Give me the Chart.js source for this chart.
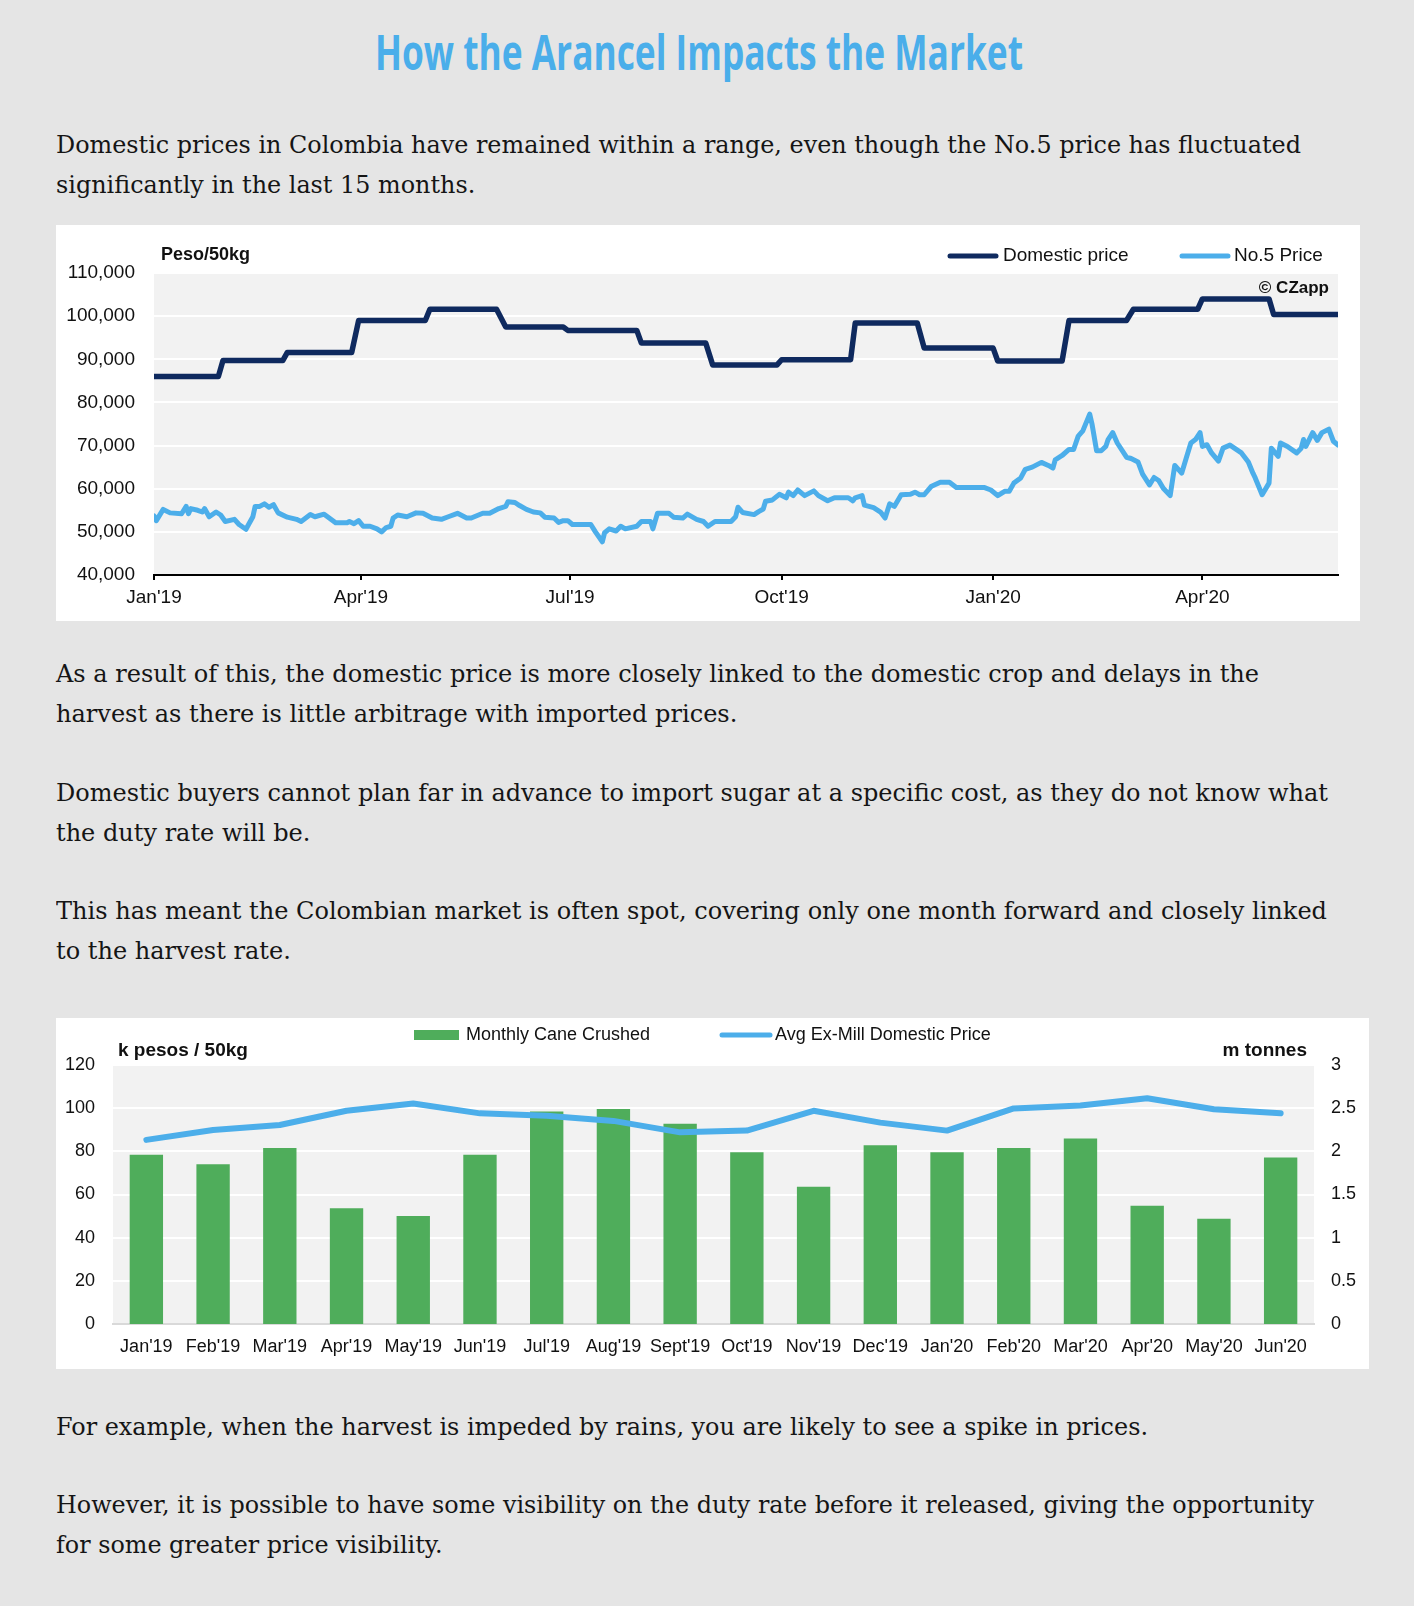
<!DOCTYPE html>
<html><head><meta charset="utf-8">
<script src="https://cdn.jsdelivr.net/npm/chart.js@4.4.1/dist/chart.umd.min.js"></script>
<style>
html,body{margin:0;padding:0;background:#e5e5e5;}
body{width:1414px;height:1606px;position:relative;overflow:hidden;}
.title{position:absolute;left:375px;top:21px;font-family:"Open Sans",sans-serif;font-weight:700;font-size:49px;line-height:60px;color:#4aaeea;white-space:nowrap;transform-origin:0 0;margin:0;}
.p{position:absolute;left:56px;font-family:"DejaVu Serif",serif;font-size:25px;line-height:40px;color:#151515;white-space:nowrap;transform-origin:0 0;margin:0;}
.p span{display:inline-block;}
.panel{position:absolute;background:#fff;}
.panel canvas{display:block;}
</style>
</head><body>
<h1 class="title" id="title">How the Arancel Impacts the Market</h1>
<p class="p" style="top:124.6px" data-w="1245"><span>Domestic prices in Colombia have remained within a range, even though the No.5 price has fluctuated</span><br><span>significantly in the last 15 months.</span></p>
<div class="panel" style="left:56px;top:225px;width:1304px;height:396px"><canvas id="c1" width="1304" height="396"></canvas></div>
<p class="p" style="top:654px" data-w="1203"><span>As a result of this, the domestic price is more closely linked to the domestic crop and delays in the</span><br><span>harvest as there is little arbitrage with imported prices.</span></p>
<p class="p" style="top:773px" data-w="1272"><span>Domestic buyers cannot plan far in advance to import sugar at a specific cost, as they do not know what</span><br><span>the duty rate will be.</span></p>
<p class="p" style="top:890.5px" data-w="1271"><span>This has meant the Colombian market is often spot, covering only one month forward and closely linked</span><br><span>to the harvest rate.</span></p>
<div class="panel" style="left:56px;top:1018px;width:1313px;height:351px"><canvas id="c2" width="1313" height="351"></canvas></div>
<p class="p" style="top:1406.6px" data-w="1092"><span>For example, when the harvest is impeded by rains, you are likely to see a spike in prices.</span></p>
<p class="p" style="top:1485.4px" data-w="1258"><span>However, it is possible to have some visibility on the duty rate before it released, giving the opportunity</span><br><span>for some greater price visibility.</span></p>
<script>
// ---------- Chart 1 data (days since 1 Jan 2019) ----------
const dayTicks = [0, 90, 181, 273, 365, 456];
const dayTickLabels = ["Jan'19", "Apr'19", "Jul'19", "Oct'19", "Jan'20", "Apr'20"];

const domesticDays = [0, 28, 30, 56, 58, 86, 89, 118, 120, 149, 153, 178, 180, 210, 212, 240, 243, 271, 273, 303, 305, 332, 335, 365, 367, 395, 398, 423, 426, 454, 456, 485, 487, 515];
const domesticValues = [86000, 86000, 89700, 89700, 91600, 91600, 99000, 99000, 101600, 101600, 97500, 97500, 96700, 96700, 93750, 93750, 88700, 88700, 89900, 89900, 98400, 98400, 92600, 92600, 89600, 89600, 99000, 99000, 101600, 101600, 104000, 104000, 100400, 100400];

const no5Days = [0, 1, 4, 7, 12, 14, 15, 16, 19, 21, 22, 24, 27, 29, 31, 35, 37, 40, 43, 44, 46, 48, 50, 52, 54, 58, 62, 64, 68, 70, 74, 79, 84, 85, 87, 89, 91, 94, 97, 99, 101, 103, 104, 106, 110, 114, 117, 121, 125, 128, 132, 136, 138, 143, 146, 150, 153, 154, 157, 159, 162, 165, 168, 170, 174, 176, 178, 180, 182, 190, 192, 195, 196, 198, 201, 203, 205, 210, 212, 216, 217, 219, 224, 226, 230, 232, 236, 239, 241, 244, 251, 253, 254, 256, 261, 263, 265, 266, 269, 272, 275, 276, 278, 280, 283, 287, 289, 293, 296, 302, 304, 305, 308, 309, 313, 316, 318, 320, 322, 325, 329, 331, 333, 335, 338, 342, 346, 349, 361, 364, 367, 370, 372, 374, 377, 379, 382, 386, 389, 391, 392, 395, 398, 400, 402, 404, 407, 408, 410, 412, 414, 415, 417, 419, 423, 425, 428, 430, 433, 435, 437, 439, 442, 444, 447, 449, 451, 453, 455, 456, 458, 460, 463, 465, 468, 473, 476, 478, 479, 482, 485, 486, 489, 490, 493, 497, 499, 500, 501, 504, 506, 508, 511, 513, 515];
const no5Values = [53700, 52600, 55200, 54400, 54200, 55900, 54200, 55400, 55000, 54600, 55400, 53500, 54600, 53900, 52400, 52900, 51700, 50600, 53500, 55900, 55900, 56500, 55700, 56300, 54400, 53400, 52900, 52400, 54000, 53500, 54100, 52100, 52100, 52400, 51900, 52600, 51300, 51300, 50700, 50000, 51000, 51300, 53200, 53900, 53500, 54400, 54300, 53200, 52900, 53500, 54300, 53200, 53200, 54300, 54300, 55400, 55900, 57000, 56800, 56100, 55200, 54600, 54400, 53400, 53200, 52200, 52600, 52600, 51700, 51700, 50000, 47700, 49800, 50700, 50200, 51300, 50700, 51300, 52400, 52400, 50700, 54300, 54300, 53400, 53200, 54100, 52900, 52400, 51300, 52400, 52400, 53500, 55700, 54500, 54000, 54700, 55300, 57100, 57400, 58700, 57900, 59200, 58400, 59700, 58400, 59500, 58400, 57200, 57900, 57900, 57200, 57900, 58400, 56200, 55600, 54600, 53200, 56500, 55900, 58600, 58700, 59200, 58600, 58600, 60500, 61500, 61500, 60300, 60300, 59700, 58400, 59400, 59400, 61300, 62500, 64500, 65000, 66100, 65400, 64800, 66700, 67700, 69100, 69100, 72200, 73400, 77300, 75000, 68800, 68800, 69800, 71400, 73000, 70600, 67300, 67000, 66200, 63400, 60900, 62600, 61900, 60100, 58400, 65400, 63600, 67100, 70600, 71400, 73000, 69800, 70200, 68300, 66400, 69400, 70100, 68300, 66200, 63600, 62500, 58600, 61300, 69400, 67500, 70600, 69800, 68300, 69400, 71400, 69800, 73000, 71200, 73000, 73800, 71000, 70100];

// ---------- Chart 2 data ----------
const months = ["Jan'19", "Feb'19", "Mar'19", "Apr'19", "May'19", "Jun'19", "Jul'19", "Aug'19", "Sept'19", "Oct'19", "Nov'19", "Dec'19", "Jan'20", "Feb'20", "Mar'20", "Apr'20", "May'20", "Jun'20"];
const caneCrushed = [1.96, 1.85, 2.04, 1.34, 1.25, 1.96, 2.46, 2.49, 2.32, 1.99, 1.59, 2.07, 1.99, 2.04, 2.15, 1.37, 1.22, 1.93];
const exMillPrice = [85.3, 89.9, 92.2, 98.8, 102.2, 97.6, 96.5, 94.1, 88.8, 89.6, 98.8, 93.3, 89.6, 99.9, 101.2, 104.6, 99.5, 97.6];

// ---------- text fitting ----------
(function(){
  const t = document.getElementById('title');
  const tw = t.getBoundingClientRect().width;
  t.style.transform = 'scaleX(' + (648 / tw) + ')';
  document.querySelectorAll('.p').forEach(p => {
    const s = p.querySelector('span');
    const w = s.getBoundingClientRect().width;
    p.style.transform = 'scaleX(' + (parseFloat(p.dataset.w) / w) + ')';
  });
})();

// ---------- Chart.js ----------
const NAVY = '#0f2a5f', LIGHT = '#4caeea', GREEN = '#4fad5b';
Chart.defaults.font.family = '"Liberation Sans", Arial, sans-serif';
Chart.defaults.color = '#111';

const plotBg = {id: 'plotBg', beforeDraw(c) {
  const a = c.chartArea, x = c.ctx;
  x.save(); x.fillStyle = '#f2f2f2';
  x.fillRect(a.left, a.top, a.right - a.left, a.bottom - a.top);
  x.restore();
}};

function txt(ctx, s, x, y, font, align) {
  ctx.font = font; ctx.fillStyle = '#111'; ctx.textAlign = align || 'left'; ctx.textBaseline = 'middle';
  ctx.fillText(s, x, y);
}
function legLine(ctx, x1, x2, y, color) {
  ctx.save(); ctx.strokeStyle = color; ctx.lineWidth = 5; ctx.lineCap = 'round';
  ctx.beginPath(); ctx.moveTo(x1, y); ctx.lineTo(x2, y); ctx.stroke(); ctx.restore();
}
const F = '"Liberation Sans", Arial, sans-serif';

const labels1 = {id: 'labels1', afterDraw(c) {
  const ctx = c.ctx; ctx.save();
  txt(ctx, 'Peso/50kg', 105, 30, 'bold 18px ' + F);
  const ds = c.data.datasets;
  legLine(ctx, 894, 940, 31, ds[0].borderColor);
  txt(ctx, ds[0].label, 947, 31, '19px ' + F);
  legLine(ctx, 1126, 1172, 31, ds[1].borderColor);
  txt(ctx, ds[1].label, 1178, 31, '19px ' + F);
  txt(ctx, '\u00A9 CZapp', 1273, 63, 'bold 17px ' + F, 'right');
  ctx.restore();
}};

new Chart(document.getElementById('c1'), {
  type: 'line',
  data: {datasets: [
    {label: 'Domestic price', data: domesticDays.map((d, i) => ({x: d, y: domesticValues[i]})),
     borderColor: NAVY, borderWidth: 5.5, pointRadius: 0, tension: 0, borderJoinStyle: 'round', borderCapStyle: 'round'},
    {label: 'No.5 Price', data: no5Days.map((d, i) => ({x: d, y: no5Values[i]})),
     borderColor: LIGHT, borderWidth: 5, pointRadius: 0, tension: 0, borderJoinStyle: 'round', borderCapStyle: 'round'}
  ]},
  options: {
    responsive: false, animation: false, events: [],
    layout: {padding: {top: 48, right: 22, left: 0, bottom: 0}},
    plugins: {legend: {display: false}, tooltip: {enabled: false}},
    scales: {
      x: {type: 'linear', min: 0, max: 515,
        afterBuildTicks: s => { s.ticks = dayTicks.map(v => ({value: v})); },
        ticks: {callback: v => dayTickLabels[dayTicks.indexOf(v)], font: {size: 19}, padding: 6, maxRotation: 0, autoSkip: false, color: '#111'},
        grid: {drawOnChartArea: false, drawTicks: true, tickLength: 5, color: '#000', lineWidth: 2},
        border: {display: true, color: '#000', width: 2},
        afterFit: s => { s.height = 46; }},
      y: {min: 40000, max: 110000,
        ticks: {stepSize: 10000, font: {size: 19}, padding: 19, color: '#111', callback: v => v.toLocaleString('en-US')},
        grid: {color: '#ffffff', lineWidth: 2, drawTicks: false},
        border: {display: false},
        afterFit: s => { s.width = 98; }}
    }
  },
  plugins: [plotBg, labels1]
});

const labels2 = {id: 'labels2', afterDraw(c) {
  const ctx = c.ctx; ctx.save();
  const ds = c.data.datasets;
  ctx.fillStyle = ds[1].backgroundColor; ctx.fillRect(358, 12, 45, 10);
  txt(ctx, ds[1].label, 410, 17, '18px ' + F);
  legLine(ctx, 666, 714, 17, ds[0].borderColor);
  txt(ctx, ds[0].label, 719, 17, '18px ' + F);
  txt(ctx, 'k pesos / 50kg', 62, 33, 'bold 19px ' + F);
  txt(ctx, 'm tonnes', 1251, 33, 'bold 19px ' + F, 'right');
  ctx.restore();
}};

new Chart(document.getElementById('c2'), {
  data: {labels: months, datasets: [
    {type: 'line', label: 'Avg Ex-Mill Domestic Price', data: exMillPrice, yAxisID: 'y',
     borderColor: LIGHT, borderWidth: 6, pointRadius: 0, tension: 0, order: 0, borderCapStyle: 'round', borderJoinStyle: 'round'},
    {type: 'bar', label: 'Monthly Cane Crushed', data: caneCrushed, yAxisID: 'y1',
     backgroundColor: GREEN, barPercentage: 0.5, categoryPercentage: 1, order: 1}
  ]},
  options: {
    responsive: false, animation: false, events: [],
    layout: {padding: {top: 47, right: 0, left: 0, bottom: 0}},
    plugins: {legend: {display: false}, tooltip: {enabled: false}},
    scales: {
      x: {grid: {display: false, drawTicks: false}, border: {display: true, color: '#d9d9d9', width: 2},
        ticks: {font: {size: 18}, padding: 12, autoSkip: false, maxRotation: 0, color: '#111'},
        afterFit: s => { s.height = 45; }},
      y: {position: 'left', min: 0, max: 120,
        ticks: {stepSize: 20, font: {size: 18}, padding: 18, color: '#111'},
        grid: {color: '#ffffff', lineWidth: 2, drawTicks: false}, border: {display: false},
        afterFit: s => { s.width = 57; }},
      y1: {position: 'right', min: 0, max: 3,
        ticks: {stepSize: 0.5, font: {size: 18}, padding: 17, color: '#111', callback: v => String(v)},
        grid: {display: false, drawTicks: false}, border: {display: false},
        afterFit: s => { s.width = 55; }}
    }
  },
  plugins: [plotBg, labels2]
});
</script>
</body></html>
